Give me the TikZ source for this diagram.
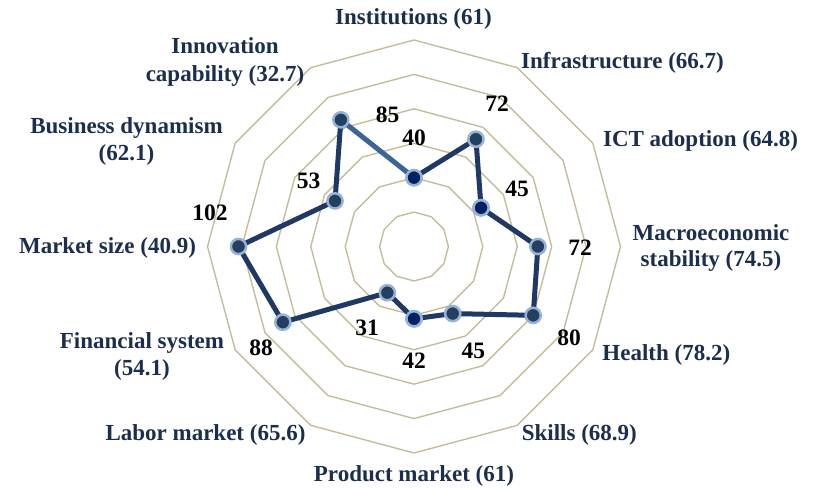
\documentclass[tikz,border=0pt]{standalone}
\usepackage{fontspec}
\setmainfont{Liberation Serif}
\definecolor{gridtan}{HTML}{C4BD97}
\definecolor{navyline}{HTML}{1F3864}
\definecolor{lightseg}{HTML}{3C6496}
\definecolor{dotring}{HTML}{95B3D7}
\definecolor{dotfill}{HTML}{253F61}
\definecolor{dotdeep}{HTML}{002060}
\definecolor{labelnavy}{HTML}{1C2E4E}
\pgfdeclarelayer{background}
\pgfsetlayers{background,main}
\tikzset{
  gridline/.style={draw=gridtan, line width=1.4pt, line join=miter},
  dataline/.style={draw=navyline, line width=5pt, line join=round, line cap=round},
  dot/.style={circle, inner sep=0pt, minimum size=15.2pt, fill=dotfill, draw=dotring, line width=2.5pt},
  lbl/.style={font=\fontsize{23}{26.7}\selectfont\bfseries, text=labelnavy, align=center, inner sep=0pt, anchor=base},
  num/.style={font=\fontsize{23.5}{28}\selectfont\bfseries, text=black, inner sep=0pt, anchor=base}
}
\begin{document}
\begin{tikzpicture}[x=1pt,y=-1pt]
\useasboundingbox (0,0) rectangle (813,487);
\begin{scope}[shift={(414,246.5)}]
  % data point nodes
  \foreach \v [count=\k from 0] in {40,72,45,72,80,45,42,31,88,102,53,85} {
    \node[dot] (p\k) at (-90+30*\k:{\v*1.72083}) {};
  }
  \foreach \k in {0,2,6} { \node[dot, fill=dotdeep] at (p\k) {}; }
  \begin{pgfonlayer}{background}
    \foreach \i in {1,...,6} {
      \draw[gridline] (-90:{\i*34.4167}) \foreach \k in {1,...,11}{ -- (-90+30*\k:{\i*34.4167})} -- cycle;
    }
    \draw[dataline, draw=lightseg] (p11.center) -- (p0.center);
    \draw[dataline] (p0.center) -- (p1.center) -- (p2.center) -- (p3.center) -- (p4.center) -- (p5.center)
      -- (p6.center) -- (p7.center) -- (p8.center) -- (p9.center) -- (p10.center) -- (p11.center);
  \end{pgfonlayer}
\end{scope}
% category labels (anchor = baseline of the last line)
\node[lbl] (l0) at (413.5,25) {Institutions (61)};
\node[lbl] (l1) at (622.5,68.3) {Infrastructure (66.7)};
\node[lbl] (l2) at (700.5,146.7) {ICT adoption (64.8)};
\node[lbl] (l3) at (711,266.7) {Macroeconomic\\stability (74.5)};
\node[lbl] (l4) at (666.3,360) {Health (78.2)};
\node[lbl] (l5) at (579.3,440) {Skills (68.9)};
\node[lbl] (l6) at (414,481.7) {Product market (61)};
\node[lbl] (l7) at (205.5,440) {Labor market (65.6)};
\node[lbl] (l8) at (142,375) {Financial system\\(54.1)};
\node[lbl] (l9) at (107.5,253.3) {Market size (40.9)};
\node[lbl] (l10) at (126.5,160) {Business dynamism\\(62.1)};
\node[lbl, font=\fontsize{23}{28}\selectfont\bfseries] (l11) at (225,81.7) {Innovation\\capability (32.7)};
% value labels
\node[num] (n0) at (414,145) {40};
\node[num] (n1) at (497,111.7) {72};
\node[num] (n2) at (517,196.7) {45};
\node[num] (n3) at (580,255) {72};
\node[num] (n4) at (569,345) {80};
\node[num] (n5) at (473.3,358.3) {45};
\node[num] (n6) at (414,368.3) {42};
\node[num] (n7) at (367,335) {31};
\node[num] (n8) at (261,355) {88};
\node[num] (n9) at (210,220) {102};
\node[num] (n10) at (308.7,188.3) {53};
\node[num] (n11) at (387.5,122.7) {85};
\end{tikzpicture}
\end{document}
